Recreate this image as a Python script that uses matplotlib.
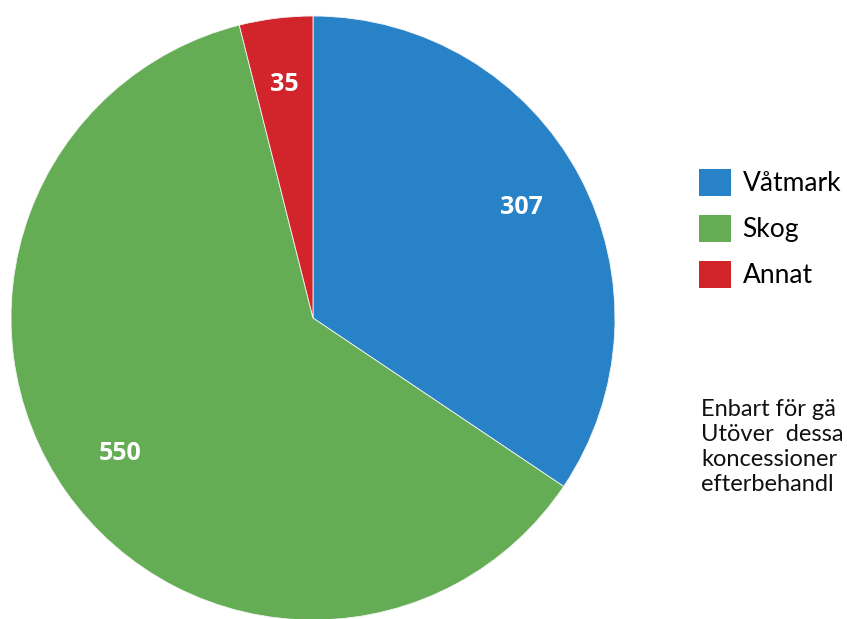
import matplotlib
matplotlib.use('Agg')
import matplotlib.pyplot as plt
from matplotlib.patches import Patch

#----------------------------------------------
# data

categories = ['Våtmark', 'Skog', 'Annat']
values = [307, 550, 35]
colors = ['#2882c7', '#64ad55', '#d2242b']

# the note is cut by the right edge of the original image
note_lines = ['Enbart för gä',
              'Utöver  dessa',
              'koncessioner',
              'efterbehandl']

#----------------------------------------------

plt.rcParams['font.family'] = ['Lato', 'DejaVu Sans']

W, H = 847, 619
fig = plt.figure(figsize=(W / 100, H / 100), dpi=100)

# pie centre (313, 318) px, radius 302 px
cx, cy, r = 313, 318, 302
ax = fig.add_axes([(cx - r) / W, (H - cy - r) / H, 2 * r / W, 2 * r / H])

wedges, texts = ax.pie(values, labels=[str(v) for v in values],
                       colors=colors, startangle=90, counterclock=False,
                       labeldistance=0.78,
                       wedgeprops=dict(edgecolor='#f4f4f4', linewidth=0.6,
                                       clip_on=False),
                       textprops=dict(color='white', fontsize=18,
                                      family=['Open Sans', 'DejaVu Sans'],
                                      fontweight='bold'))
for t in texts:
    t.set_ha('center')
    t.set_va('center')
ax.set_xlim(-1, 1)
ax.set_ylim(-1, 1)
ax.set_aspect('equal')

#---legend on the right
handles = [Patch(facecolor=c, edgecolor='none') for c in colors]
fig.legend(handles, categories, loc='upper left',
           bbox_to_anchor=(699 / W, 1 - 169 / H), frameon=False,
           fontsize=19, handlelength=1.2, handleheight=1.2,
           handletextpad=0.45, labelspacing=0.7, borderpad=0,
           borderaxespad=0)

#---note text
fig.text(701 / W, 1 - 399 / H, '\n'.join(note_lines), fontsize=17,
         ha='left', va='top', linespacing=1.24, color='#111111')

fig.savefig('out.png', dpi=100)
